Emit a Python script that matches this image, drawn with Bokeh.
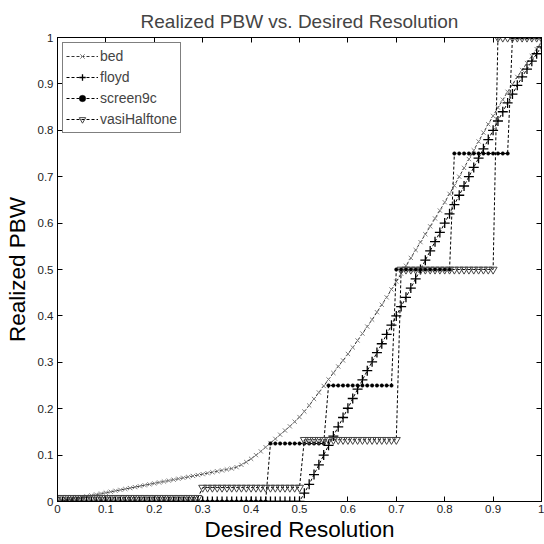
from bokeh.plotting import figure
from bokeh.models import Range1d, LinearAxis, FixedTicker, Legend, LegendItem, CustomJSTickFormatter
from bokeh.embed import file_html
from bokeh.resources import INLINE

# ---------------- data ----------------
desired = [
    0.00, 0.01, 0.02, 0.03, 0.04, 0.05, 0.06, 0.07, 0.08, 0.09,
    0.10, 0.11, 0.12, 0.13, 0.14, 0.15, 0.16, 0.17, 0.18, 0.19,
    0.20, 0.21, 0.22, 0.23, 0.24, 0.25, 0.26, 0.27, 0.28, 0.29,
    0.30, 0.31, 0.32, 0.33, 0.34, 0.35, 0.36, 0.37, 0.38, 0.39,
    0.40, 0.41, 0.42, 0.43, 0.44, 0.45, 0.46, 0.47, 0.48, 0.49,
    0.50, 0.51, 0.52, 0.53, 0.54, 0.55, 0.56, 0.57, 0.58, 0.59,
    0.60, 0.61, 0.62, 0.63, 0.64, 0.65, 0.66, 0.67, 0.68, 0.69,
    0.70, 0.71, 0.72, 0.73, 0.74, 0.75, 0.76, 0.77, 0.78, 0.79,
    0.80, 0.81, 0.82, 0.83, 0.84, 0.85, 0.86, 0.87, 0.88, 0.89,
    0.90, 0.91, 0.92, 0.93, 0.94, 0.95, 0.96, 0.97, 0.98, 0.99,
    1.00,
]

bed = [
    0.000, 0.001, 0.003, 0.005, 0.007, 0.009, 0.011, 0.013, 0.015, 0.017,
    0.019, 0.021, 0.023, 0.025, 0.027, 0.029, 0.031, 0.033, 0.035, 0.037,
    0.039, 0.041, 0.043, 0.045, 0.047, 0.049, 0.051, 0.053, 0.055, 0.057,
    0.059, 0.061, 0.063, 0.065, 0.067, 0.069, 0.071, 0.074, 0.079, 0.085,
    0.092, 0.100, 0.108, 0.117, 0.126, 0.135, 0.144, 0.153, 0.162, 0.172,
    0.182, 0.194, 0.207, 0.221, 0.235, 0.249, 0.263, 0.277, 0.291, 0.304,
    0.318, 0.332, 0.347, 0.362, 0.377, 0.392, 0.408, 0.424, 0.440, 0.457,
    0.474, 0.491, 0.508, 0.525, 0.542, 0.559, 0.576, 0.593, 0.610, 0.627,
    0.645, 0.663, 0.681, 0.700, 0.719, 0.738, 0.757, 0.776, 0.795, 0.813,
    0.831, 0.849, 0.866, 0.883, 0.899, 0.915, 0.930, 0.945, 0.960, 0.975,
    0.990,
]

floyd = [
    0.000, 0.000, 0.000, 0.000, 0.000, 0.000, 0.000, 0.000, 0.000, 0.000,
    0.000, 0.000, 0.000, 0.000, 0.000, 0.000, 0.000, 0.000, 0.000, 0.000,
    0.000, 0.000, 0.000, 0.000, 0.000, 0.000, 0.000, 0.000, 0.000, 0.000,
    0.000, 0.000, 0.000, 0.000, 0.000, 0.000, 0.000, 0.000, 0.000, 0.000,
    0.000, 0.000, 0.000, 0.000, 0.000, 0.000, 0.000, 0.000, 0.000, 0.000,
    0.000, 0.018, 0.037, 0.058, 0.079, 0.100, 0.121, 0.141, 0.161, 0.181,
    0.201, 0.222, 0.242, 0.262, 0.282, 0.301, 0.321, 0.340, 0.360, 0.380,
    0.400, 0.420, 0.440, 0.460, 0.480, 0.500, 0.520, 0.540, 0.560, 0.580,
    0.600, 0.620, 0.640, 0.660, 0.680, 0.700, 0.720, 0.740, 0.760, 0.780,
    0.800, 0.820, 0.840, 0.859, 0.878, 0.897, 0.915, 0.932, 0.949, 0.965,
    0.980,
]

screen9c = [
    0.0, 0.0, 0.0, 0.0, 0.0, 0.0, 0.0, 0.0, 0.0, 0.0,
    0.0, 0.0, 0.0, 0.0, 0.0, 0.0, 0.0, 0.0, 0.0, 0.0,
    0.0, 0.0, 0.0, 0.0, 0.0, 0.0, 0.0, 0.0, 0.0, 0.0,
    0.0, 0.0, 0.0, 0.0, 0.0, 0.0, 0.0, 0.0, 0.0, 0.0,
    0.0, 0.0, 0.0, 0.0, 0.125, 0.125, 0.125, 0.125, 0.125, 0.125,
    0.125, 0.125, 0.125, 0.125, 0.125, 0.125, 0.25, 0.25, 0.25, 0.25,
    0.25, 0.25, 0.25, 0.25, 0.25, 0.25, 0.25, 0.25, 0.25, 0.25,
    0.5, 0.5, 0.5, 0.5, 0.5, 0.5, 0.5, 0.5, 0.5, 0.5,
    0.5, 0.5, 0.75, 0.75, 0.75, 0.75, 0.75, 0.75, 0.75, 0.75,
    0.75, 0.75, 0.75, 0.75, 1.0, 1.0, 1.0, 1.0, 1.0, 1.0,
    1.0,
]

vasiHalftone = [
    0.008, 0.008, 0.008, 0.008, 0.008, 0.008, 0.008, 0.008, 0.008, 0.008,
    0.008, 0.008, 0.008, 0.008, 0.008, 0.008, 0.008, 0.008, 0.008, 0.008,
    0.008, 0.008, 0.008, 0.008, 0.008, 0.008, 0.008, 0.008, 0.008, 0.008,
    0.030, 0.030, 0.030, 0.030, 0.030, 0.030, 0.030, 0.030, 0.030, 0.030,
    0.030, 0.030, 0.030, 0.030, 0.030, 0.030, 0.030, 0.030, 0.030, 0.030,
    0.030, 0.133, 0.133, 0.133, 0.133, 0.133, 0.133, 0.133, 0.133, 0.133,
    0.133, 0.133, 0.133, 0.133, 0.133, 0.133, 0.133, 0.133, 0.133, 0.133,
    0.133, 0.5, 0.5, 0.5, 0.5, 0.5, 0.5, 0.5, 0.5, 0.5,
    0.5, 0.5, 0.5, 0.5, 0.5, 0.5, 0.5, 0.5, 0.5, 0.5,
    0.5, 1.0, 1.0, 1.0, 1.0, 1.0, 1.0, 1.0, 1.0, 1.0,
    1.0,
]

tick_vals = [0, 0.1, 0.2, 0.3, 0.4, 0.5, 0.6, 0.7, 0.8, 0.9, 1]
tick_labels = ["0", "0.1", "0.2", "0.3", "0.4", "0.5", "0.6", "0.7", "0.8", "0.9", "1"]

FONT = "Liberation Sans"

# ---------------- figure ----------------
p = figure(width=544, height=544, x_range=Range1d(0, 1), y_range=Range1d(0, 1),
           output_backend="svg", toolbar_location=None,
           title="Realized PBW vs. Desired Resolution",
           min_border_left=57, min_border_right=3, min_border_top=37, min_border_bottom=43)
p.background_fill_color = "white"
p.border_fill_color = "white"
p.outline_line_color = "black"
p.outline_line_width = 1
p.outline_line_alpha = 1.0
p.xgrid.visible = False
p.ygrid.visible = False

p.title.text_font = FONT
p.title.text_font_size = "19px"
p.title.text_font_style = "normal"
p.title.align = "center"
p.title.standoff = 11

overrides = dict(zip(tick_vals, tick_labels))

def style_axis(ax, show_labels=True):
    ax.ticker = FixedTicker(ticks=tick_vals)
    ax.minor_tick_line_color = None
    ax.major_tick_in = 5
    ax.major_tick_out = 0
    ax.axis_line_color = "black"
    ax.major_tick_line_color = "black"
    if show_labels:
        ax.major_label_overrides = overrides
        ax.major_label_text_font = FONT
        ax.major_label_text_font_size = "11.5px"
        ax.major_label_text_color = "#222222"
    else:
        ax.formatter = CustomJSTickFormatter(code="return ''")
        ax.major_label_text_font_size = "0px"
        ax.major_label_standoff = 0

style_axis(p.xaxis[0])
style_axis(p.yaxis[0])
p.xaxis.major_label_standoff = 3
p.yaxis.major_label_standoff = 4
p.xaxis.axis_label = "Desired Resolution"
p.yaxis.axis_label = "Realized PBW"
for ax in (p.xaxis[0], p.yaxis[0]):
    ax.axis_label_text_font = FONT
    ax.axis_label_text_font_size = "22.5px"
    ax.axis_label_text_font_style = "normal"
    ax.axis_label_text_color = "black"
p.xaxis.axis_label_standoff = 1
p.yaxis.axis_label_standoff = 5

top_ax = LinearAxis()
right_ax = LinearAxis()
style_axis(top_ax, False)
style_axis(right_ax, False)
p.add_layout(top_ax, "above")
p.add_layout(right_ax, "right")

DASH = "3 2"

l_bed = p.line(desired, bed, line_color="#333333", line_width=1, line_dash=DASH)
s_bed = p.scatter(desired, bed, marker="x", size=6, line_color="#808080", line_width=1)

l_floyd = p.line(desired, floyd, line_color="black", line_width=1, line_dash=DASH)
s_floyd = p.scatter(desired, floyd, marker="cross", size=10, line_color="black", line_width=1.3)

l_scr = p.line(desired, screen9c, line_color="black", line_width=1, line_dash=DASH)
s_scr = p.scatter(desired, screen9c, marker="circle", size=3.5, line_color="black",
                  fill_color="black", line_width=0.5)

l_vasi = p.line(desired, vasiHalftone, line_color="black", line_width=1, line_dash=DASH)
s_vasi = p.scatter(desired, vasiHalftone, marker="inverted_triangle", size=8,
                   line_color="#444444", fill_alpha=0, line_width=1)

legend = Legend(items=[
    LegendItem(label="bed", renderers=[l_bed, s_bed]),
    LegendItem(label="floyd", renderers=[l_floyd, s_floyd]),
    LegendItem(label="screen9c", renderers=[l_scr, s_scr]),
    LegendItem(label="vasiHalftone", renderers=[l_vasi, s_vasi]),
], location="top_left")
legend.margin = 5
legend.padding = 3
legend.spacing = 1
legend.label_height = 20
legend.glyph_height = 16
legend.glyph_width = 32
legend.label_standoff = 2
legend.label_text_font = FONT
legend.label_text_font_size = "14px"
legend.border_line_color = "black"
legend.border_line_width = 1
legend.background_fill_color = "white"
legend.background_fill_alpha = 1.0
p.add_layout(legend)

open("out.html", "w").write(file_html(p, INLINE))
